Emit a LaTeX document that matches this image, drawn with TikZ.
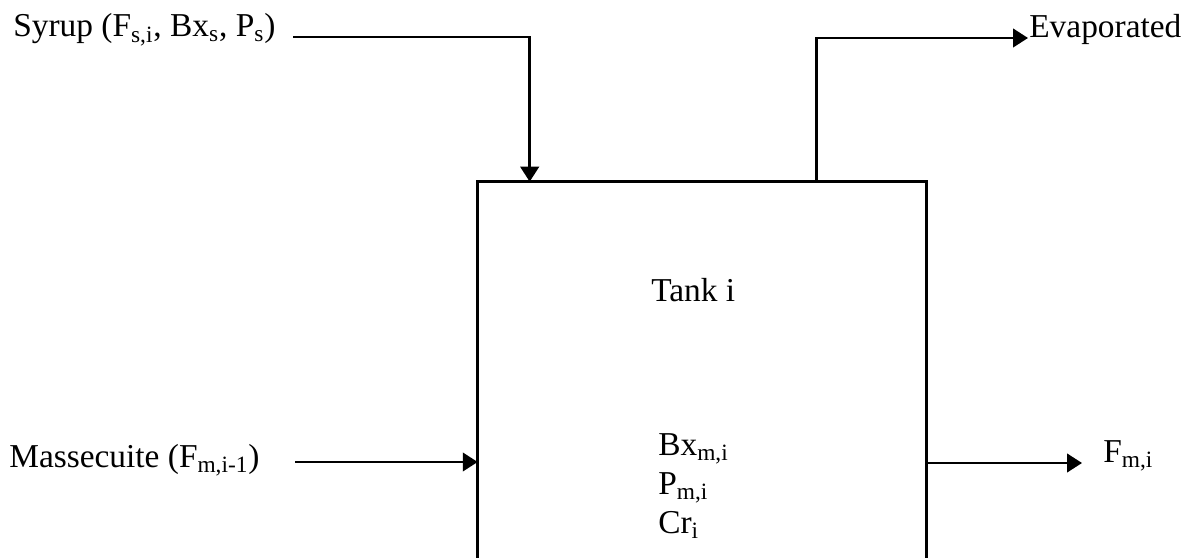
\documentclass[tikz,border=0pt]{standalone}
\usepackage{fontspec}
\setmainfont{Liberation Serif}
\usetikzlibrary{arrows.meta}

\begin{document}
\begin{tikzpicture}[
  label/.style={inner sep=0pt,anchor=base west,font=\fontsize{19}{22}\selectfont},
  tankbox/.style={rectangle,inner sep=0pt,minimum width=8.92cm,minimum height=7.48cm},
  flow/.style={-{Triangle[length=8.5pt,width=10.5pt]}},
  every path/.style={line width=1.5pt}
]
  \useasboundingbox (0,0) rectangle (23.7,11.14);

  \node[tankbox] (tank) at (14.04,3.74) {};
  \draw (tank.south west) -- (tank.north west) -- (tank.north east) -- (tank.south east);

  \node[label] (tanklabel) at (13.0,5.1) {Tank i};
  % base of an aligned node is its last line
  \node[label,align=left] (states) at (13.14,0.48)
    {Bx\textsubscript{m,i}\\P\textsubscript{m,i}\\Cr\textsubscript{i}};

  \node[label] (syrup) at (0.24,10.4)
    {Syrup (F\textsubscript{s,i}, Bx\textsubscript{s}, P\textsubscript{s})};
  \node[label] (evap) at (20.56,10.38) {Evaporated};
  \node[label] (masse) at (0.16,1.8) {Massecuite (F\textsubscript{m,i-1})};
  \node[label] (outflow) at (22.04,1.9) {F\textsubscript{m,i}};

  \coordinate (syrupstart) at (5.86,10.4);
  \coordinate (evapstart) at ([xshift=6.78cm]tank.north west);
  \coordinate (massestart) at (5.9,1.9);
  \coordinate (outend) at (21.64,1.88);

  \draw[flow] (syrupstart) -| ([xshift=1.04cm]tank.north west);
  \draw[flow] (evapstart) |- (evap.base west);
  \draw[flow] (massestart) -- (massestart -| tank.west);
  \draw[flow] (outend -| tank.east) -- (outend);
\end{tikzpicture}
\end{document}
